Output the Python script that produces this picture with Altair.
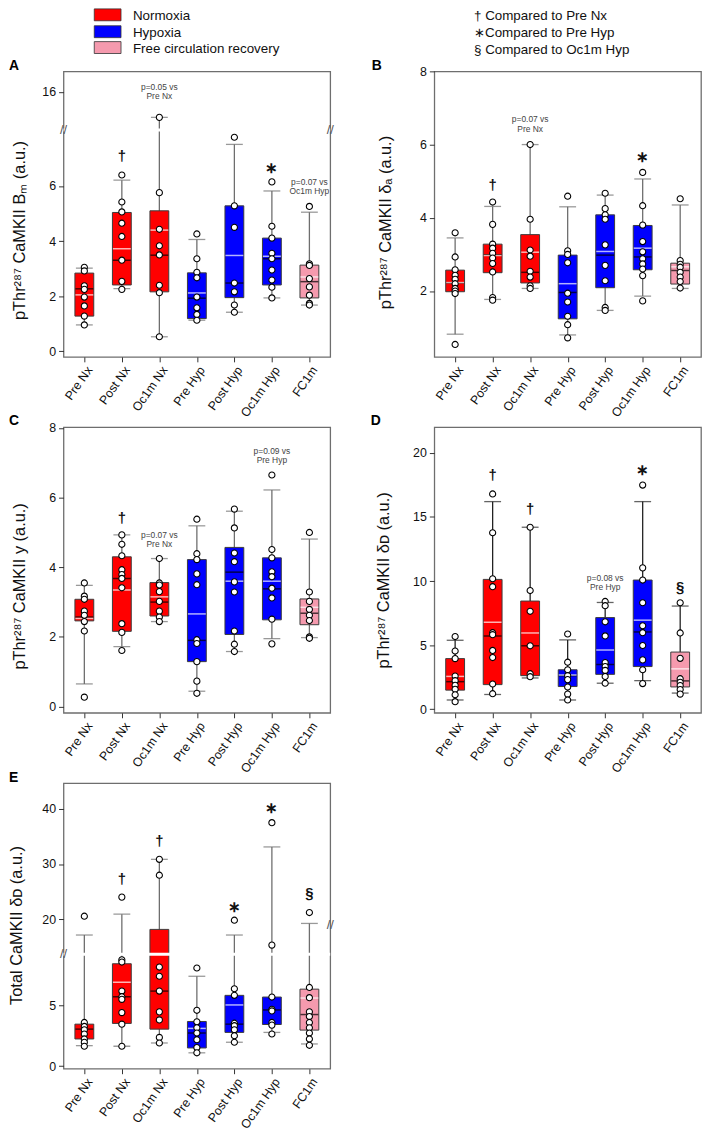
import math
import altair as alt
import pandas as pd

W, H = 269, 288
FONT = "Liberation Sans"

GROUPS = ["Pre Nx", "Post Nx", "Oc1m Nx", "Pre Hyp", "Post Hyp", "Oc1m Hyp", "FC1m"]
CONDITION = ["Normoxia", "Normoxia", "Normoxia", "Hypoxia", "Hypoxia", "Hypoxia",
             "Free circulation recovery"]
COND_DOMAIN = ["Normoxia", "Hypoxia", "Free circulation recovery"]
COND_COLORS = ["#FF0000", "#0000FF", "#F59AAE"]
SIG_LEGEND = ["\u2020 Compared to Pre Nx", "\u2217Compared to Pre Hyp", "\u00a7 Compared to Oc1m Hyp"]

# ---------------- Panel A ----------------
A_Q1 = [1.28, 2.41, 2.16, 1.19, 1.95, 2.41, 1.94]
A_MED = [2.27, 3.31, 3.49, 1.93, 2.48, 3.36, 2.53]
A_Q3 = [2.84, 5.04, 5.10, 2.85, 5.28, 4.11, 3.13]
A_MEAN = [2.05, 3.72, 4.40, 2.12, 3.48, 3.45, 2.70]
A_WLO = [0.96, 2.28, 0.53, 1.13, 1.42, 1.94, 1.68]
A_WHI = [3.02, 6.21, 12.0, 4.06, 7.51, 5.82, 5.05]
A_PTS = [
    [3.05, 2.92, 2.38, 2.25, 1.97, 1.65, 1.28, 0.96],
    [6.40, 5.42, 5.06, 4.65, 4.17, 3.31, 2.54, 2.25],
    [12.0, 5.76, 4.43, 3.83, 3.50, 2.40, 2.13, 0.53],
    [4.26, 3.36, 2.87, 2.67, 1.97, 1.58, 1.34, 1.13],
    [7.77, 5.28, 4.50, 2.48, 2.16, 1.68, 1.42],
    [6.15, 4.54, 4.11, 3.56, 3.36, 2.95, 2.59, 2.33, 1.94],
    [5.26, 3.18, 3.12, 2.64, 2.34, 2.04, 1.74, 1.68],
]
A_SYM = [("Post Nx", 7.07, "\u2020"), ("Oc1m Hyp", 6.65, "\u2217")]
A_NOTE = [("Oc1m Nx", 16.78, "p=0.05 vs"), ("Oc1m Nx", 15.30, "Pre Nx"),
          ("FC1m", 6.15, "p=0.07 vs"), ("FC1m", 5.82, "Oc1m Hyp")]
A_TICKS = [0, 2, 4, 6, 16]
A_BREAK = (8.03, 10.0, 0.2302)

# ---------------- Panel B ----------------
B_Q1 = [1.98, 2.50, 2.22, 1.24, 2.09, 2.58, 2.19]
B_MED = [2.22, 2.99, 2.51, 1.96, 2.98, 2.93, 2.56]
B_Q3 = [2.57, 3.28, 3.54, 2.98, 4.08, 3.79, 2.76]
B_MEAN = [2.23, 2.97, 3.06, 2.20, 3.08, 3.17, 2.66]
B_WLO = [0.82, 1.77, 2.07, 0.80, 1.47, 1.86, 2.07]
B_WHI = [3.45, 4.31, 6.00, 4.30, 4.62, 5.06, 4.35]
B_PTS = [
    [3.59, 2.93, 2.58, 2.43, 2.32, 2.20, 2.07, 2.00, 1.93, 0.54],
    [4.43, 3.82, 3.28, 3.17, 3.03, 2.90, 2.75, 2.52, 1.82, 1.75],
    [6.00, 3.96, 3.12, 2.95, 2.54, 2.38, 2.14, 2.07],
    [4.59, 3.10, 3.00, 2.77, 1.94, 1.70, 1.31, 1.08, 0.72],
    [4.67, 4.25, 4.08, 3.96, 3.26, 2.70, 2.28, 1.55, 1.47],
    [5.24, 4.33, 3.80, 3.35, 3.07, 2.88, 2.74, 2.60, 2.42, 1.73],
    [4.52, 2.83, 2.73, 2.65, 2.51, 2.38, 2.26, 2.08],
]
B_SYM = [("Post Nx", 4.90, "\u2020"), ("Oc1m Hyp", 5.67, "\u2217")]
B_NOTE = [("Oc1m Nx", 6.69, "p=0.07 vs"), ("Oc1m Nx", 6.42, "Pre Nx")]
B_TICKS = [2, 4, 6, 8]

# ---------------- Panel C ----------------
C_Q1 = [2.46, 2.16, 2.60, 1.29, 2.07, 2.49, 2.35]
C_MED = [2.57, 3.68, 3.00, 1.90, 3.86, 3.38, 2.68]
C_Q3 = [3.08, 4.30, 3.56, 4.22, 4.57, 4.27, 3.09]
C_MEAN = [2.53, 3.35, 3.15, 2.66, 3.60, 3.60, 2.85]
C_WLO = [0.65, 1.72, 2.44, 0.44, 1.58, 1.95, 1.98]
C_WHI = [3.48, 4.93, 4.25, 5.19, 5.61, 6.22, 4.81]
C_PTS = [
    [3.55, 3.17, 3.08, 2.74, 2.62, 2.44, 2.17, 0.27],
    [4.93, 4.66, 4.33, 3.93, 3.79, 3.68, 3.41, 2.38, 2.13, 1.61],
    [4.25, 3.55, 3.49, 3.30, 3.02, 2.74, 2.57, 2.44],
    [5.38, 4.39, 4.22, 3.81, 3.50, 1.92, 1.81, 1.29, 0.73, 0.38],
    [5.67, 5.13, 4.41, 4.16, 3.58, 3.29, 2.17, 1.79, 1.58],
    [6.65, 4.51, 4.27, 3.87, 3.73, 3.40, 3.12, 2.51, 1.80],
    [5.00, 3.29, 3.02, 2.79, 2.62, 2.47, 2.00, 1.96],
]
C_SYM = [("Post Nx", 5.40, "\u2020")]
C_NOTE = [("Oc1m Nx", 4.93, "p=0.07 vs"), ("Oc1m Nx", 4.68, "Pre Nx"),
          ("Oc1m Hyp", 7.34, "p=0.09 vs"), ("Oc1m Hyp", 7.07, "Pre Hyp")]
C_TICKS = [0, 2, 4, 6, 8]

# ---------------- Panel D ----------------
D_Q1 = [1.49, 1.92, 2.62, 1.77, 2.72, 3.33, 1.74]
D_MED = [2.15, 5.72, 4.95, 2.62, 3.49, 6.03, 2.21]
D_Q3 = [3.95, 10.13, 8.44, 3.08, 7.15, 10.08, 4.46]
D_MEAN = [2.56, 6.79, 5.95, 2.67, 4.62, 6.95, 3.15]
D_WLO = [0.72, 1.15, 2.44, 0.72, 2.03, 2.23, 1.26]
D_WHI = [5.38, 16.2, 14.2, 5.41, 8.33, 16.2, 8.05]
D_PTS = [
    [5.67, 4.54, 3.95, 2.59, 2.23, 1.87, 1.56, 1.13, 0.59],
    [16.8, 13.77, 10.18, 9.56, 5.97, 5.82, 4.59, 4.03, 1.97, 1.21],
    [14.2, 9.26, 7.64, 4.95, 2.77, 2.54],
    [5.87, 3.67, 3.08, 2.62, 2.31, 1.74, 1.18, 0.72],
    [8.41, 8.08, 6.82, 5.72, 3.64, 3.33, 3.03, 2.56, 2.03],
    [17.49, 11.03, 10.08, 8.31, 6.51, 5.97, 4.97, 3.85, 3.08, 2.00],
    [8.31, 5.95, 3.97, 2.38, 2.10, 1.85, 1.54, 1.18],
]
D_SYM = [("Post Nx", 18.28, "\u2020"), ("Oc1m Nx", 15.64, "\u2020"),
         ("Oc1m Hyp", 18.7, "\u2217"), ("FC1m", 9.54, "\u00a7")]
D_NOTE = [("Post Hyp", 10.26, "p=0.08 vs"), ("Post Hyp", 9.51, "Pre Hyp")]
D_TICKS = [0, 5, 10, 15, 20]

# ---------------- Panel E ----------------
E_Q1 = [2.23, 3.51, 3.04, 1.49, 2.77, 3.42, 2.96]
E_MED = [3.04, 5.71, 6.17, 2.72, 3.45, 4.62, 4.24]
E_Q3 = [3.45, 8.42, 18.15, 3.67, 5.82, 5.68, 6.33]
E_MEAN = [float("nan"), 6.90, 10.3, 3.10, 5.03, 9.66, 5.60]
E_WLO = [1.68, 1.63, 1.90, 1.09, 1.96, 2.77, 1.82]
E_WHI = [17.13, 20.9, 30.85, 7.39, 17.13, 33.1, 19.23]
E_PTS = [
    [20.54, 3.59, 3.26, 2.99, 2.64, 2.23, 1.96, 1.63],
    [24.0, 8.75, 8.56, 6.17, 5.71, 5.49, 4.40, 3.45, 1.63],
    [30.85, 27.97, 8.15, 7.39, 6.17, 4.46, 3.80, 2.36, 1.90],
    [8.07, 4.59, 3.64, 3.15, 2.72, 2.17, 1.52, 1.09],
    [19.82, 6.36, 5.82, 3.53, 3.32, 2.99, 2.50, 1.96],
    [37.5, 15.3, 5.68, 4.67, 4.54, 3.59, 3.37, 2.64],
    [21.2, 6.47, 5.63, 4.46, 4.08, 3.59, 3.15, 2.72, 2.23, 1.71],
]
E_SYM = [("Post Nx", 27.3, "\u2020"), ("Oc1m Nx", 34.2, "\u2020"), ("Post Hyp", 22.2, "\u2217"),
         ("Oc1m Hyp", 40.2, "\u2217"), ("FC1m", 24.8, "\u00a7")]
E_TICKS = [0, 5, 20, 30, 40]
E_BREAK = (9.21, 13.66, 0.454)


def make_map(brk):
    if brk is None:
        return lambda v: v
    lo, hi, r = brk

    def f(v):
        if v <= lo:
            return v
        if v < hi:
            return lo
        return lo + (v - hi) * r
    return f


def panel(letter, letter_x, letter_y, q1, med, q3, mean, wlo, whi, pts, syms, notes,
          domain, ticks, title, title_x, title_y, brk=None, mark_vals=None,
          wcolor="#6e6e6e", extra=None):
    f = make_map(brk)
    xs = alt.Scale(type="point", domain=GROUPS, padding=0.555)
    xa = alt.Axis(title=None, labelAngle=305, labelAlign="right", labelBaseline="top",
                  labelFontSize=12.5, labelPadding=2, tickSize=5, domain=False,
                  labelColor="#111", tickColor="#333", labelFont=FONT)
    ys = alt.Scale(domain=domain, nice=False, zero=False)
    if brk:
        lo, hi, r = brk
        expr = (f"datum.value > {lo + 1e-6} ? format({hi} + (datum.value - {lo}) / {r}, '.0f')"
                f" : format(datum.value, '.0f')")
    else:
        expr = "format(datum.value, '.0f')"
    ya = alt.Axis(values=[f(t) for t in ticks], labelExpr=expr, title=title, titleAngle=270,
                  titleX=title_x, titleY=title_y, titleAlign="center", titleBaseline="alphabetic",
                  titleFontSize=16.5, titleFontWeight="normal", titleColor="#111", titleFont=FONT,
                  labelFontSize=12.5, labelColor="#111", labelFont=FONT, tickSize=5,
                  tickColor="#333", domain=False, grid=False, labelPadding=3)

    def X():
        return alt.X("g:N", scale=xs, axis=xa)

    def Y(field):
        return alt.Y(f"{field}:Q", scale=ys, axis=ya)

    box = pd.DataFrame({
        "g": GROUPS, "cond": CONDITION,
        "q1": [f(v) for v in q1], "q3": [f(v) for v in q3], "med": [f(v) for v in med],
        "mean": [f(v) if not math.isnan(v) else None for v in mean],
        "wlo": [f(v) for v in wlo], "whi": [f(v) for v in whi],
    })
    caps = pd.DataFrame({"g": GROUPS * 2, "y": [f(v) for v in wlo] + [f(v) for v in whi]})
    pdf = pd.DataFrame([{"g": g, "y": f(v)} for g, vals in zip(GROUPS, pts) for v in vals])
    mean_df = box[box["mean"].notna()]

    layers = [
        alt.Chart(box).mark_rule(color=wcolor, strokeWidth=1.3).encode(x=X(), y=Y("wlo"), y2="whi:Q"),
        alt.Chart(caps).mark_tick(color=wcolor, size=17, thickness=1.3).encode(x=X(), y=Y("y")),
        alt.Chart(box).mark_bar(size=19, stroke="#3c3c3c", strokeWidth=1).encode(
            x=X(), y=Y("q1"), y2="q3:Q",
            color=alt.Color("cond:N", scale=alt.Scale(domain=COND_DOMAIN, range=COND_COLORS),
                            legend=None)),
        alt.Chart(box).mark_tick(color="#000", size=18, thickness=1.5).encode(x=X(), y=Y("med")),
        alt.Chart(mean_df).mark_tick(color="#fff", size=18, thickness=1.5).encode(x=X(), y=Y("mean")),
    ]
    if brk:
        band = pd.DataFrame({"y": [brk[0]]})
        layers.append(alt.Chart(band).mark_rule(color="white", strokeWidth=3).encode(
            x=alt.value(0), x2=alt.value(W), y=Y("y")))
    layers.append(alt.Chart(pdf).mark_point(shape="circle", filled=True, fill="white",
                                            stroke="black", strokeWidth=1.1, size=38,
                                            opacity=1).encode(x=X(), y=Y("y")))
    if syms:
        sdf = pd.DataFrame([{"g": g, "y": f(v), "t": t} for g, v, t in syms])
        layers.append(alt.Chart(sdf).mark_text(fontSize=15, fontWeight="bold", color="#111",
                                               baseline="middle").encode(x=X(), y=Y("y"), text="t:N"))
    if notes:
        ndf = pd.DataFrame([{"g": g, "y": f(v), "t": t} for g, v, t in notes])
        layers.append(alt.Chart(ndf).mark_text(fontSize=8.5, color="#444",
                                               baseline="middle").encode(x=X(), y=Y("y"), text="t:N"))
    if mark_vals:
        for xpix, v in mark_vals:
            mdf = pd.DataFrame({"y": [f(v)], "t": ["//"]})
            layers.append(alt.Chart(mdf).mark_text(fontSize=13, color="#555",
                                                   baseline="middle").encode(
                x=alt.value(xpix), y=Y("y"), text="t:N"))
    dummy = pd.DataFrame({"t": [letter]})
    layers.append(alt.Chart(dummy).mark_text(fontSize=14, fontWeight="bold", align="left",
                                             baseline="alphabetic", color="#000").encode(
        x=alt.value(letter_x), y=alt.value(letter_y), text="t:N"))
    if extra:
        layers.extend(extra)
    return alt.layer(*layers).properties(width=W, height=H)


ROWS = [-57, -40, -24]
legend_left = []
for lab, col, c in zip(COND_DOMAIN, COND_COLORS, ROWS):
    d = pd.DataFrame({"t": [lab]})
    legend_left.append(alt.Chart(d).mark_rect(color=col, stroke="#333", strokeWidth=0.8).encode(
        x=alt.value(31), x2=alt.value(58), y=alt.value(c - 6), y2=alt.value(c + 6)))
    legend_left.append(alt.Chart(d).mark_text(fontSize=13.5, align="left", baseline="alphabetic",
                                              color="#111").encode(
        x=alt.value(70), y=alt.value(c + 5), text="t:N"))

legend_right = []
for lab, c in zip(SIG_LEGEND, [-57, -40, -23]):
    d = pd.DataFrame({"t": [lab]})
    legend_right.append(alt.Chart(d).mark_text(fontSize=13.5, align="left", baseline="alphabetic",
                                               color="#111").encode(
        x=alt.value(40), y=alt.value(c + 5), text="t:N"))

pA = panel("A", -55, -1, A_Q1, A_MED, A_Q3, A_MEAN, A_WLO, A_WHI, A_PTS, A_SYM, A_NOTE,
           [-0.2, 10.16], A_TICKS, "pThr\u00b2\u2078\u2077 CaMKII B\u2098 (a.u.)", -39.5, 160,
           brk=A_BREAK, mark_vals=[(0, 10.0), (W, 10.0)], extra=legend_left)
pB = panel("B", -63, -1, B_Q1, B_MED, B_Q3, B_MEAN, B_WLO, B_WHI, B_PTS, B_SYM, B_NOTE,
           [0.2, 8.0], B_TICKS, "pThr\u00b2\u2078\u2077 CaMKII \u03b4\u2090 (a.u.)", -44, 152,
           extra=legend_right)
pC = panel("C", -55, -2, C_Q1, C_MED, C_Q3, C_MEAN, C_WLO, C_WHI, C_PTS, C_SYM, C_NOTE,
           [-0.18, 8.02], C_TICKS, "pThr\u00b2\u2078\u2077 CaMKII y (a.u.)", -39.5, 160)
pD = panel("D", -64, -2, D_Q1, D_MED, D_Q3, D_MEAN, D_WLO, D_WHI, D_PTS, D_SYM, D_NOTE,
           [-0.28, 22.0], D_TICKS, "pThr\u00b2\u2078\u2077 CaMKII \u03b4\u1d05 (a.u.)", -46, 154,
           wcolor="#222")
pE = panel("E", -55, -1, E_Q1, E_MED, E_Q3, E_MEAN, E_WLO, E_WHI, E_PTS, E_SYM, [],
           [-0.22, 23.28], E_TICKS, "Total CaMKII \u03b4\u1d05 (a.u.)", -42.5, 143,
           brk=E_BREAK, mark_vals=[(0, 13.66), (W, 18.9)])

chart = alt.concat(pA, pB, pC, pD, pE, columns=2, spacing={"row": 71, "column": 105},
                   bounds="flush").properties(
    padding={"top": -6, "left": -1, "right": 0, "bottom": 6}).configure_view(
    stroke="#6e6e6e", strokeWidth=1.3).configure_text(font=FONT).configure_axis(
    labelFont=FONT, titleFont=FONT)

chart.save("out.html", embed_options={"renderer": "svg", "actions": False})
